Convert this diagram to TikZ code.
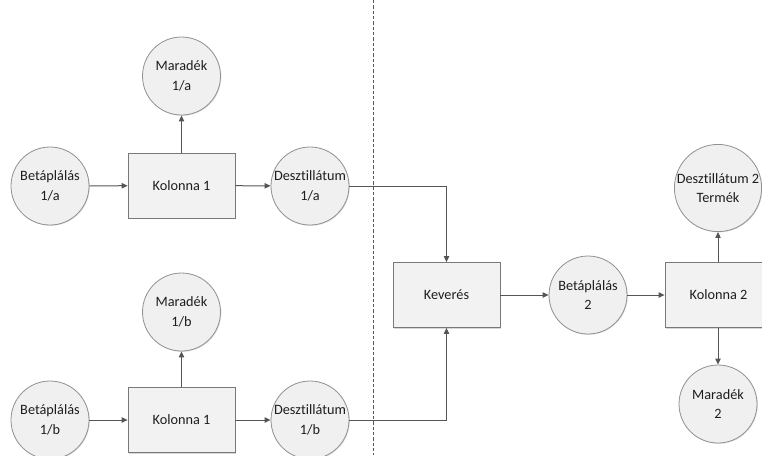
\documentclass[tikz,border=0pt]{standalone}
\usepackage{fontspec}
\setmainfont[Ligatures={NoCommon}]{Carlito}
\usetikzlibrary{arrows.meta,shadows}
\definecolor{linec}{RGB}{85,85,85}
\definecolor{circfill}{RGB}{240,240,240}
\definecolor{circdraw}{RGB}{145,145,145}
\definecolor{boxfill}{RGB}{242,242,242}
\definecolor{boxdraw}{RGB}{120,120,120}
\definecolor{txt}{RGB}{30,30,30}
\tikzset{
  stream/.style={circle, draw=circdraw, line width=0.6pt, fill=circfill,
    minimum size=58.5pt, inner sep=0pt, align=center, text=txt,
    font=\fontsize{10.7}{14.5}\selectfont,
    drop shadow={shadow xshift=0.6pt, shadow yshift=-0.6pt, fill=black!25, opacity=0.5}},
  unit/.style={rectangle, draw=boxdraw, line width=0.6pt, fill=boxfill,
    minimum width=80.25pt, minimum height=48.75pt, inner sep=0pt, align=center, text=txt,
    font=\fontsize{10.7}{14.5}\selectfont,
    drop shadow={shadow xshift=1pt, shadow yshift=-1pt, fill=black!30, opacity=0.5}},
  arr/.style={draw=linec, line width=0.75pt, -{Triangle[length=4.5pt,width=4pt]}},
}
\begin{document}
\begin{tikzpicture}[x=0.75pt,y=-0.75pt]
\useasboundingbox[fill=white] (0,0) rectangle (762,455);
% divider
\draw[linec, line width=0.6pt, dash pattern=on 2.5pt off 1.5pt] (373,0) -- (373,455);
% top row
\node[stream] (b1a) at (50,186) {Betáplálás\\1/a};
\node[unit]   (k1a) at (181.5,185.5) {Kolonna 1};
\node[stream] (d1a) at (310,186) {Desztillátum\\1/a};
\node[stream] (m1a) at (181.5,76) {Maradék\\1/a};
% bottom row
\node[stream] (b1b) at (50,420) {Betáplálás\\1/b};
\node[unit]   (k1b) at (181.5,420) {Kolonna 1};
\node[stream] (d1b) at (310,420) {Desztillátum\\1/b};
\node[stream] (m1b) at (181.5,312) {Maradék\\1/b};
% right part
\node[unit]   (kev) at (446.5,295) {Keverés};
\node[stream] (b2)  at (588,295) {Betáplálás\\2};
\node[unit]   (k2)  at (718.5,295) {Kolonna 2};
\node[stream] (d2)  at (718,188) {Desztillátum 2\\Termék};
\node[stream] (m2)  at (718,404) {Maradék\\2};
% connectors
\draw[arr] (b1a) -- (k1a);
\draw[arr] (k1a) -- (d1a);
\draw[arr] (k1a) -- (m1a);
\draw[arr] (b1b) -- (k1b);
\draw[arr] (k1b) -- (d1b);
\draw[arr] (k1b) -- (m1b);
\draw[arr] (d1a.east) -| (kev.north);
\draw[arr] (d1b.east) -| (kev.south);
\draw[arr] (kev) -- (b2);
\draw[arr] (b2) -- (k2);
\draw[arr] (k2.north -| d2) -- (d2);
\draw[arr] (k2.south -| m2) -- (m2);
\end{tikzpicture}
\end{document}
